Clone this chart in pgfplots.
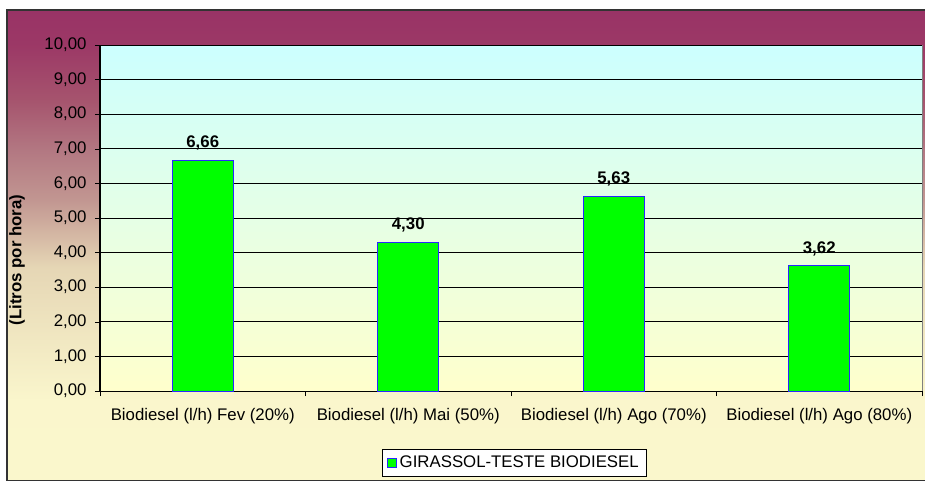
\documentclass[border=0pt]{standalone}
\usepackage{pgfplots}
\pgfplotsset{compat=1.18}
\usepackage{fontspec}
\setmainfont{Liberation Sans}

\definecolor{pacyan}{RGB}{204,255,255}
\definecolor{payel}{RGB}{255,255,204}
\definecolor{bargreen}{RGB}{0,255,0}
\definecolor{baredge}{RGB}{40,40,255}

% chart area background: maroon at the top fading into pale yellow
\pgfdeclareverticalshading{chartbg}{100bp}{%
  rgb(0bp)=(0.98,0.97,0.80); rgb(25bp)=(0.98,0.97,0.80);
  rgb(33.5bp)=(0.98,0.965,0.80); rgb(47.7bp)=(0.90,0.84,0.71);
  rgb(54.8bp)=(0.76,0.59,0.57); rgb(60.1bp)=(0.70,0.47,0.51);
  rgb(65.4bp)=(0.65,0.33,0.43); rgb(71.3bp)=(0.61,0.22,0.40);
  rgb(75bp)=(0.6,0.2,0.4); rgb(100bp)=(0.6,0.2,0.4)}

\begin{document}
\fontsize{12.6}{15}\selectfont
\begin{tikzpicture}[x=0.75pt,y=0.75pt]
\useasboundingbox (0,0) rectangle (925,480);
\fill[white] (0,0) rectangle (925,480);
\shade[shading=chartbg] (7,-1) rectangle (926,470);
\draw[black!80, line width=1.2pt] (7,-1) rectangle (926,470);

\begin{axis}[
    at={(75pt,66.75pt)},
    anchor=south west,
    scale only axis,
    width=616.5pt,
    height=259.5pt,
    ybar,
    bar width=45.75pt,
    xmin=-0.5, xmax=3.5,
    ymin=0, ymax=10,
    ytick={0,1,...,10},
    xtick={0,1,2,3},
    xticklabels={Biodiesel (l/h) Fev (20\%), Biodiesel (l/h) Mai (50\%), Biodiesel (l/h) Ago (70\%), Biodiesel (l/h) Ago (80\%)},
    minor xtick={-0.5,0.5,1.5,2.5,3.5},
    major x tick style={draw=none},
    minor x tick style={black},
    ytick style={black},
    tick align=outside,
    major tick length=3.75pt,
    minor tick length=3.75pt,
    axis x line*=bottom,
    axis y line*=left,
    axis line style={black, line width=0.75pt},
    ymajorgrids,
    major grid style={black, line width=0.6pt},
    axis background/.style={top color=pacyan, bottom color=payel, draw=gray},
    /pgf/number format/assume math mode=true,
    yticklabel style={xshift=-2pt, /pgf/number format/.cd, fixed, fixed zerofill, precision=2, use comma},
    xticklabel style={yshift=-5pt},
    ylabel={(Litros por hora)},
    ylabel style={at={(rel axis cs:-0.101,0.379)}, anchor=center, font=\bfseries},
    nodes near coords={\pgfmathprintnumber[fixed,fixed zerofill,precision=2,use comma,assume math mode=true]{\pgfplotspointmeta}},
    nodes near coords style={font=\bfseries, yshift=3pt},
    legend style={at={(0.504,-0.208)}, anchor=center, draw=black, fill=white,
                  inner xsep=4pt, inner ysep=3pt, /tikz/every even column/.append style={column sep=2pt}},
]
    \addplot[fill=bargreen, draw=baredge, line width=0.6pt,
        legend image code/.code={\draw[fill=bargreen, draw=baredge, line width=0.6pt] (0pt,-3.4pt) rectangle (6.8pt,3.4pt);}]
    coordinates {
    (0,6.66)(1,4.30)(2,5.63)(3,3.62)
    };
    \addlegendentry{GIRASSOL-TESTE BIODIESEL}
\end{axis}
\end{tikzpicture}
\end{document}
